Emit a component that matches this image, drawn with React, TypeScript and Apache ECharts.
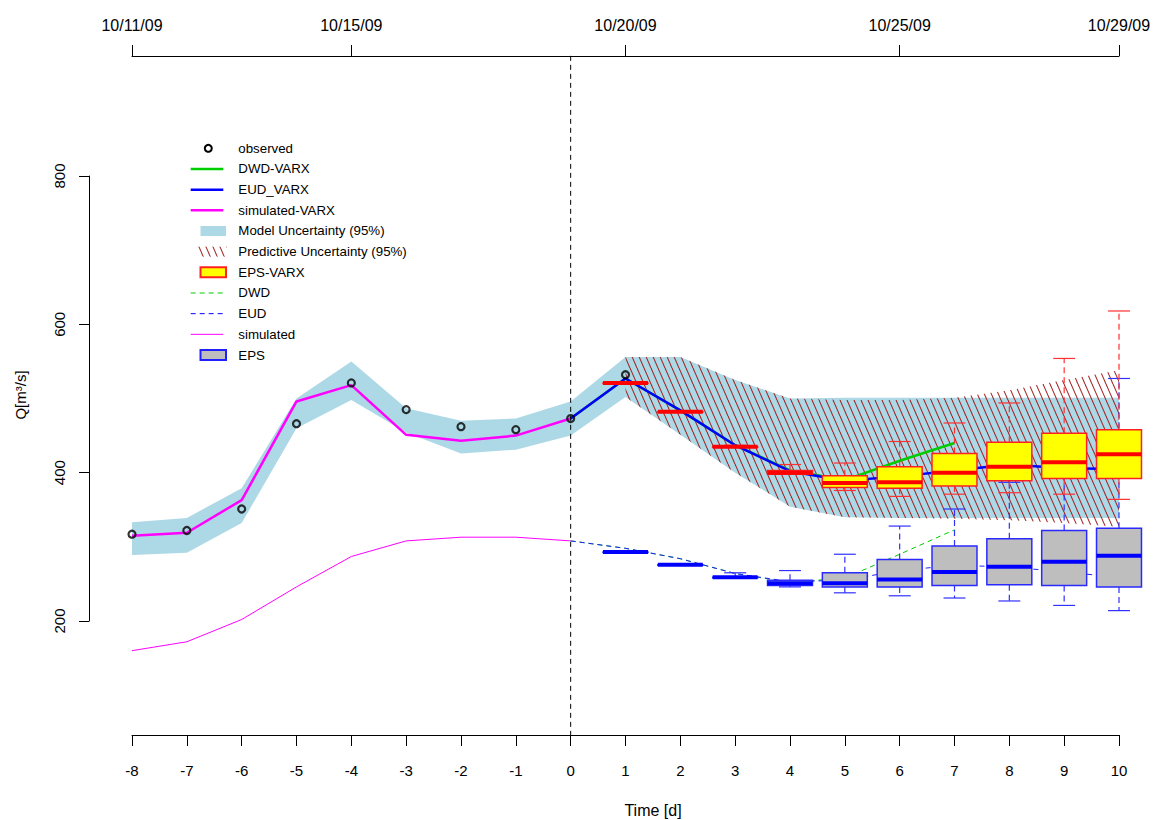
import React, { useEffect, useRef } from "react";
import * as echarts from "echarts";

// ---------- data ----------
const allDays = [-8, -7, -6, -5, -4, -3, -2, -1, 0, 1, 2, 3, 4, 5, 6, 7, 8, 9, 10];
const pastDays = [-8, -7, -6, -5, -4, -3, -2, -1, 0];
const observedDays = [-8, -7, -6, -5, -4, -3, -2, -1, 0, 1];
const forecastDays = [0, 1, 2, 3, 4, 5, 6, 7, 8, 9, 10];
const dwdDays = [0, 1, 2, 3, 4, 5, 6, 7];
const boxDays = [1, 2, 3, 4, 5, 6, 7, 8, 9, 10];

const observed = [317, 322, 351, 466, 521, 485, 462, 458, 473, 532];
const simulatedVarx = [315, 319, 363, 496, 518, 451, 443, 450, 473];
const simulated = [160, 172, 202, 246, 287, 308, 313, 313, 308];
const eudVarx = [473, 527, 484, 437, 402, 389, 395, 403, 411, 406, 405];
const dwdVarx = [473, 527, 484, 437, 403, 390, 416, 440];
const eud = [308, 298, 284, 264, 253, 255, 268, 275, 273, 266, 259];
const dwd = [308, 298, 284, 264, 252, 258, 290, 323];

const modelUpper = [333, 339, 379, 500, 550, 487, 470, 473, 496, 556, 556, 525, 500, 501, 501, 501, 501, 501, 501];
const modelLower = [289, 292, 332, 460, 498, 454, 426, 431, 450, 502, 451, 400, 354, 340, 339, 339, 339, 339, 339];
const predUpper = [556, 556, 525, 500, 498, 498, 501, 511, 525, 538];
const predLower = [502, 451, 400, 354, 340, 339, 338, 336, 332, 327];

// [min, q1, median, q3, max]
const epsVarx = [
  [521, 521, 521, 521, 521],
  [482, 482, 482, 482, 482],
  [435, 435, 435, 435, 437],
  [398, 398, 400, 403, 411],
  [376, 380, 386, 396, 413],
  [368, 379, 387, 408, 442],
  [371, 382, 400, 426, 467],
  [373, 389, 408, 441, 494],
  [371, 392, 414, 453, 554],
  [364, 392, 425, 458, 618],
];
const eps = [
  [293, 293, 293, 293, 293],
  [276, 276, 276, 276, 276],
  [259, 259, 259, 259, 265],
  [246, 248, 251, 255, 268],
  [238, 246, 251, 265, 290],
  [234, 246, 256, 283, 328],
  [231, 248, 266, 301, 351],
  [227, 249, 273, 311, 387],
  [221, 248, 280, 322, 425],
  [214, 246, 288, 325, 527],
];

const yTicks = [200, 400, 600, 800];
const dateTicks = [-8, -4, 1, 6, 10];
const dateLabels = ["10/11/09", "10/15/09", "10/20/09", "10/25/09", "10/29/09"];
const forecastStart = 0;
const plotYRange = [46, 962];

const FONT = "'Liberation Sans', Arial, sans-serif";

function makeHatch() {
  const W = 7;
  const H = 16;
  const c = document.createElement("canvas");
  c.width = W;
  c.height = H;
  const ctx = c.getContext("2d")!;
  ctx.strokeStyle = "rgba(160,30,30,0.95)";
  ctx.lineWidth = 1.1;
  for (const off of [-W, 0, W]) {
    ctx.beginPath();
    ctx.moveTo(off, 0);
    ctx.lineTo(off + W, H);
    ctx.stroke();
  }
  return { image: c, repeat: "repeat", imageWidth: W, imageHeight: H } as any;
}

function boxRenderer(colors: { fill: string; border: string; median: string; whisker: string }) {
  return (params: any, api: any) => {
    const x = api.value(0);
    const lo = api.value(1);
    const q1 = api.value(2);
    const med = api.value(3);
    const q3 = api.value(4);
    const hi = api.value(5);
    const half = api.size([0.41, 0])[0];
    const capHalf = api.size([0.2, 0])[0];
    const c = api.coord([x, med]);
    const cx = c[0];
    const yLo = api.coord([x, lo])[1];
    const yQ1 = api.coord([x, q1])[1];
    const yMed = c[1];
    const yQ3 = api.coord([x, q3])[1];
    const yHi = api.coord([x, hi])[1];
    const children: any[] = [];
    const wStyle = { stroke: colors.whisker, lineWidth: 1.2, lineDash: [6, 4] };
    const cStyle = { stroke: colors.whisker, lineWidth: 1.2 };
    if (hi > q3) {
      children.push({ type: "line", shape: { x1: cx, y1: yQ3, x2: cx, y2: yHi }, style: wStyle });
      children.push({ type: "line", shape: { x1: cx - capHalf, y1: yHi, x2: cx + capHalf, y2: yHi }, style: cStyle });
    }
    if (lo < q1) {
      children.push({ type: "line", shape: { x1: cx, y1: yQ1, x2: cx, y2: yLo }, style: wStyle });
      children.push({ type: "line", shape: { x1: cx - capHalf, y1: yLo, x2: cx + capHalf, y2: yLo }, style: cStyle });
    }
    children.push({
      type: "rect",
      shape: { x: cx - half, y: yQ3, width: half * 2, height: Math.max(yQ1 - yQ3, 0.5) },
      style: { fill: colors.fill, stroke: colors.border, lineWidth: 1.5 },
    });
    children.push({
      type: "line",
      shape: { x1: cx - half, y1: yMed, x2: cx + half, y2: yMed },
      style: { stroke: colors.median, lineWidth: 4 },
    });
    return { type: "group", children };
  };
}

function lineSeries(name: string, xs: number[], ys: number[], color: string, width: number, dashed: boolean) {
  return {
    name,
    type: "line",
    z: 2,
    data: xs.map((d, i) => [d, ys[i]]),
    showSymbol: false,
    symbol: "none",
    clip: false,
    silent: true,
    lineStyle: { color, width, type: dashed ? [5, 4] : "solid" },
  };
}

export default function App() {
  const ref = useRef<HTMLDivElement>(null);
  useEffect(() => {
    const el = ref.current!;
    const chart = echarts.init(el, null, { renderer: "svg" });
    const hatch = makeHatch();

    const legendX0 = 190.7;
    const legendX1 = 223.3;
    const legendTextX = 238.3;
    const legendY0 = 148.3;
    const legendStep = 20.67;
    const legendEntries: any[] = [
      { label: "observed", kind: "point" },
      { label: "DWD-VARX", kind: "line", color: "#00cd00", width: 2.5 },
      { label: "EUD_VARX", kind: "line", color: "#0000ff", width: 2.5 },
      { label: "simulated-VARX", kind: "line", color: "#ff00ff", width: 2.5 },
      { label: "Model Uncertainty (95%)", kind: "rect", fill: "#add8e6", stroke: "none" },
      { label: "Predictive Uncertainty (95%)", kind: "hatch" },
      { label: "EPS-VARX", kind: "rect", fill: "#ffff00", stroke: "#ff2020" },
      { label: "DWD", kind: "dash", color: "#00cd00" },
      { label: "EUD", kind: "dash", color: "#0000ff" },
      { label: "simulated", kind: "line", color: "#ff00ff", width: 1 },
      { label: "EPS", kind: "rect", fill: "#bebebe", stroke: "#2020ff" },
    ];
    const legendGraphics: any[] = [];
    legendEntries.forEach((e, i) => {
      const y = legendY0 + i * legendStep;
      if (e.kind === "point") {
        legendGraphics.push({ type: "circle", shape: { cx: 208.3, cy: y, r: 3.5 }, style: { fill: "none", stroke: "#000", lineWidth: 2 } });
      } else if (e.kind === "line" || e.kind === "dash") {
        legendGraphics.push({
          type: "line",
          shape: { x1: legendX0, y1: y, x2: legendX1, y2: y },
          style: { stroke: e.color, lineWidth: e.kind === "dash" ? 1 : e.width, lineDash: e.kind === "dash" ? [5, 4] : null },
        });
      } else if (e.kind === "rect") {
        legendGraphics.push({
          type: "rect",
          shape: { x: 200.5, y: y - 5, width: 25.5, height: 10 },
          style: { fill: e.fill, stroke: e.stroke === "none" ? null : e.stroke, lineWidth: 2 },
        });
      } else if (e.kind === "hatch") {
        legendGraphics.push({ type: "rect", shape: { x: 198, y: y - 5, width: 29, height: 10 }, style: { fill: hatch } });
      }
      legendGraphics.push({
        type: "text",
        x: legendTextX,
        y,
        style: { text: e.label, font: `13.3px ${FONT}`, fill: "#000", verticalAlign: "middle", align: "left" },
      });
    });

    const option: any = {
      animation: false,
      backgroundColor: "#ffffff",
      grid: { left: 132, right: 37, top: 176, bottom: 199, containLabel: false, outerBoundsMode: "none" },
      xAxis: [
        {
          type: "value",
          min: -8,
          max: 10,
          interval: 1,
          position: "bottom",
          offset: 114,
          axisLine: { show: true, onZero: false, lineStyle: { color: "#000", width: 1 } },
          axisTick: { show: true, length: 11, lineStyle: { color: "#000" } },
          axisLabel: { color: "#000", fontFamily: FONT, fontSize: 15, margin: 28 },
          splitLine: { show: false },
        },
        {
          type: "value",
          min: -8,
          max: 10,
          position: "top",
          offset: 120,
          axisLine: { show: true, onZero: false, lineStyle: { color: "#000", width: 1 } },
          axisTick: { show: true, length: 11, customValues: dateTicks, lineStyle: { color: "#000" } },
          axisLabel: {
            color: "#000",
            fontFamily: FONT,
            fontSize: 16,
            margin: 23,
            customValues: dateTicks,
            formatter: (v: number) => dateLabels[dateTicks.indexOf(v)] ?? "",
          },
          splitLine: { show: false },
        },
      ],
      yAxis: {
        type: "value",
        min: 200,
        max: 800,
        interval: 200,
        offset: 43,
        axisLine: { show: true, onZero: false, lineStyle: { color: "#000", width: 1 } },
        axisTick: { show: true, length: 10, lineStyle: { color: "#000" } },
        axisLabel: {
          color: "#000",
          fontFamily: FONT,
          fontSize: 15,
          rotate: 90,
          margin: 22,
          customValues: yTicks,
        },
        splitLine: { show: false },
      },
      graphic: [
        ...legendGraphics,
        {
          type: "text",
          x: 653,
          y: 810,
          style: { text: "Time [d]", font: `16px ${FONT}`, fill: "#000", align: "center", verticalAlign: "middle" },
        },
        {
          type: "text",
          x: 20,
          y: 395,
          rotation: Math.PI / 2,
          style: { text: "Q[m³/s]", font: `15px ${FONT}`, fill: "#000", align: "center", verticalAlign: "middle" },
        },
      ],
      series: [
        {
          name: "Model Uncertainty (95%)",
          type: "custom",
          z: 1,
          clip: false,
          silent: true,
          data: [[0]],
          renderItem: (p: any, api: any) => {
            const up = allDays.map((d, i) => api.coord([d, modelUpper[i]]));
            const lo = allDays.map((d, i) => api.coord([d, modelLower[i]])).reverse();
            return { type: "polygon", shape: { points: up.concat(lo) }, style: { fill: "#add8e6" } };
          },
        },
        {
          name: "Predictive Uncertainty (95%)",
          type: "custom",
          z: 1,
          clip: false,
          silent: true,
          data: [[1]],
          renderItem: (p: any, api: any) => {
            const up = boxDays.map((d, i) => api.coord([d, predUpper[i]]));
            const lo = boxDays.map((d, i) => api.coord([d, predLower[i]])).reverse();
            return { type: "polygon", shape: { points: up.concat(lo) }, style: { fill: hatch } };
          },
        },
        lineSeries("simulated", pastDays, simulated, "#ff00ff", 1, false),
        lineSeries("DWD", dwdDays, dwd, "#00cd00", 1, true),
        lineSeries("EUD", forecastDays, eud, "#2020ff", 1, true),
        lineSeries("simulated-VARX", pastDays, simulatedVarx, "#ff00ff", 2.5, false),
        lineSeries("DWD-VARX", dwdDays, dwdVarx, "#00cd00", 2.5, false),
        lineSeries("EUD_VARX", forecastDays, eudVarx, "#0000ff", 2.5, false),
        {
          name: "EPS",
          type: "custom",
          z: 3,
          clip: false,
          silent: true,
          data: boxDays.map((d, i) => [d, ...eps[i]]),
          renderItem: boxRenderer({ fill: "#bebebe", border: "#2a2aff", median: "#0000ff", whisker: "#3030ff" }),
        },
        {
          name: "EPS-VARX",
          type: "custom",
          z: 4,
          clip: false,
          silent: true,
          data: boxDays.map((d, i) => [d, ...epsVarx[i]]),
          renderItem: boxRenderer({ fill: "#ffff00", border: "#ff2020", median: "#ff0000", whisker: "#ff3030" }),
        },
        {
          name: "forecast start",
          type: "custom",
          z: 5,
          clip: false,
          silent: true,
          data: [[forecastStart]],
          renderItem: (p: any, api: any) => {
            const a = api.coord([api.value(0), plotYRange[1]]);
            const b = api.coord([api.value(0), plotYRange[0]]);
            return {
              type: "line",
              shape: { x1: a[0], y1: a[1], x2: b[0], y2: b[1] },
              style: { stroke: "#000", lineWidth: 1, lineDash: [5, 4] },
            };
          },
        },
        {
          name: "observed",
          type: "scatter",
          z: 6,
          clip: false,
          silent: true,
          symbol: "circle",
          symbolSize: 7,
          data: observedDays.map((d, i) => [d, observed[i]]),
          itemStyle: { color: "rgba(0,0,0,0)", borderColor: "#000", borderWidth: 2.2 },
        },
      ],
    };
    chart.setOption(option);
    return () => chart.dispose();
  }, []);

  return (
    <div
      ref={ref}
      style={{ position: "fixed", left: 0, top: 0, width: 1156, height: 820, background: "#fff" }}
    />
  );
}
